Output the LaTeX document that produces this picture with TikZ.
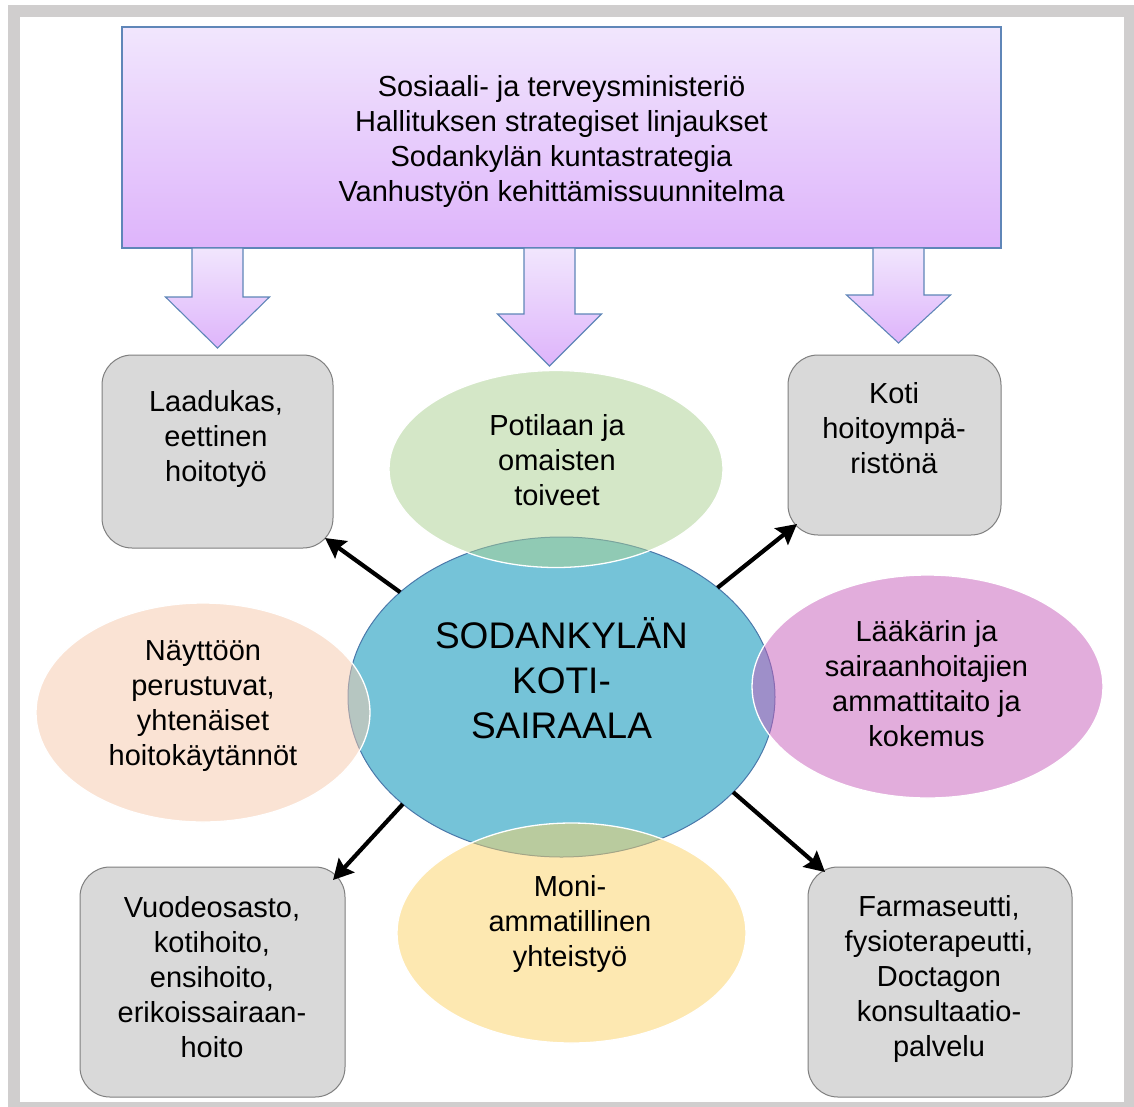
\documentclass[tikz,border=0pt]{standalone}
\usepackage{fontspec}
\setmainfont{Liberation Sans}
\usetikzlibrary{shapes.geometric,arrows.meta}

\definecolor{framegray}{HTML}{D0CECE}
\definecolor{lavtop}{HTML}{F1E6FD}
\definecolor{lavbot}{HTML}{DEB4FB}
\definecolor{steelline}{HTML}{5F86B8}
\definecolor{hubfill}{HTML}{75C3D8}
\definecolor{hubline}{HTML}{4A78AA}
\definecolor{boxfill}{HTML}{D9D9D9}
\definecolor{boxline}{HTML}{7F7F7F}
\definecolor{greenc}{RGB}{171,209,145}
\definecolor{peachc}{RGB}{247,201,171}
\definecolor{pinkc}{RGB}{199,93,187}
\definecolor{yellowc}{RGB}{253,211,101}

% struts that keep every text block centred on its visual middle
\newcommand\linestrut{\rule[-5pt]{0pt}{29pt}}
\newcommand\bigstrut{\rule[-4pt]{0pt}{34.4pt}}

\begin{document}
\begin{tikzpicture}[x=1pt,y=-1pt,
  policybox/.style={rectangle, draw=steelline, line width=1.2pt,
    top color=lavtop, bottom color=lavbot, inner sep=0pt, outer sep=0pt},
  downarrow/.style={draw=steelline, line width=1.1pt, line join=miter,
    top color=lavtop, bottom color=lavbot},
  leafbox/.style={rectangle, rounded corners=30pt, draw=boxline, line width=1pt,
    fill=boxfill, inner sep=0pt, outer sep=0pt},
  hubshape/.style={ellipse, draw=hubline, line width=1pt, fill=hubfill,
    inner sep=0pt, outer sep=0pt},
  blob/.style={ellipse, draw=white, line width=1.3pt, fill opacity=0.5,
    inner sep=0pt, outer sep=0pt},
  link/.style={draw=black, line width=4.2pt,
    -{Stealth[length=20pt,width=21pt,inset=3pt]}},
  txt/.style={font=\fontsize{29pt}{35pt}\selectfont, align=center,
    inner sep=0pt, outer sep=0pt, text=black,
    execute at begin node=\linestrut, execute at end node=\linestrut},
  hubtxt/.style={font=\fontsize{37pt}{45pt}\selectfont, align=center,
    inner sep=0pt, outer sep=0pt, text=black,
    execute at begin node=\bigstrut, execute at end node=\bigstrut}
]
\useasboundingbox (0,0) rectangle (1134,1106);
\fill[white] (0,0) rectangle (1134,1106);

% outer frame
\draw[framegray, line width=12pt] (14,11) rectangle (1130,1108);

% policy box and the three block arrows below it
\node[policybox, minimum width=879pt, minimum height=221pt] (policy) at (561.5,137.5) {};
\foreach \cx/\hy/\ty in {217.5/297/348, 549.5/314/366, 898.5/295/343} {
  \draw[downarrow] ({\cx-25.5},248) -- ({\cx-25.5},\hy) -- ({\cx-52},\hy)
    -- (\cx,\ty) -- ({\cx+52},\hy) -- ({\cx+25.5},\hy) -- ({\cx+25.5},248) -- cycle;
}

% rounded grey boxes
\node[leafbox, minimum width=231pt, minimum height=193pt] (tl) at (217.5,451.5) {};
\node[leafbox, minimum width=213pt, minimum height=180pt] (tr) at (894.5,445) {};
\node[leafbox, minimum width=265pt, minimum height=230pt] (bl) at (212.5,982) {};
\node[leafbox, minimum width=264pt, minimum height=230pt] (br) at (940,982) {};

% central ellipse and the four overlapping ellipses
\node[hubshape, minimum width=427pt, minimum height=320pt] (hub) at (561.5,697) {};
\node[blob, fill=greenc,  minimum width=334pt, minimum height=197pt] (wish) at (556,469) {};
\node[blob, fill=peachc,  minimum width=334pt, minimum height=219pt] (evid) at (203,712.5) {};
\node[blob, fill=pinkc,   minimum width=351pt, minimum height=223pt] (skill) at (927.5,686.5) {};
\node[blob, fill=yellowc, minimum width=349pt, minimum height=220pt] (coop) at (571.5,933) {};

% arrow ends on the rounded corners
\coordinate (tlend) at ([xshift=-8pt,yshift=10pt]tl.south east);
\coordinate (trend) at ([xshift=9pt,yshift=11pt]tr.south west);
\coordinate (blend) at ([xshift=-12pt,yshift=-13pt]bl.north east);
\coordinate (brend) at ([xshift=17pt,yshift=-5pt]br.north west);

\draw[link] (hub.147) -- (tlend);
\draw[link] (hub.35) -- (trend);
\draw[link] (hub.214.6) -- (blend);
\draw[link] (hub.-29) -- (brend);

% texts
\node[txt] (policytxt) at (561.5,141) {Sosiaali- ja terveysministeriö\\Hallituksen strategiset linjaukset\\Sodankylän kuntastrategia\\Vanhustyön kehittämissuunnitelma};
\node[txt] (tltxt) at (216,439) {Laadukas,\\eettinen\\hoitotyö};
\node[txt] (trtxt) at (894,430) {Koti\\hoitoympä-\\ristönä};
\node[txt] (wishtxt) at (557,462) {Potilaan ja\\omaisten\\toiveet};
\node[txt] (evidtxt) at (203,706) {Näyttöön\\perustuvat,\\yhtenäiset\\hoitokäytännöt};
\node[hubtxt] (hubtxt) at (561.5,680) {SODANKYLÄN\\KOTI-\\SAIRAALA};
\node[txt] (skilltxt) at (926.5,686) {Lääkärin ja\\sairaanhoitajien\\ammattitaito ja\\kokemus};
\node[txt] (cooptxt) at (570,924) {Moni-\\ammatillinen\\yhteistyö};
\node[txt] (bltxt) at (212,979) {Vuodeosasto,\\kotihoito,\\ensihoito,\\erikoissairaan-\\hoito};
\node[txt] (brtxt) at (939,978.5) {Farmaseutti,\\fysioterapeutti,\\Doctagon\\konsultaatio-\\palvelu};
\end{tikzpicture}
\end{document}
